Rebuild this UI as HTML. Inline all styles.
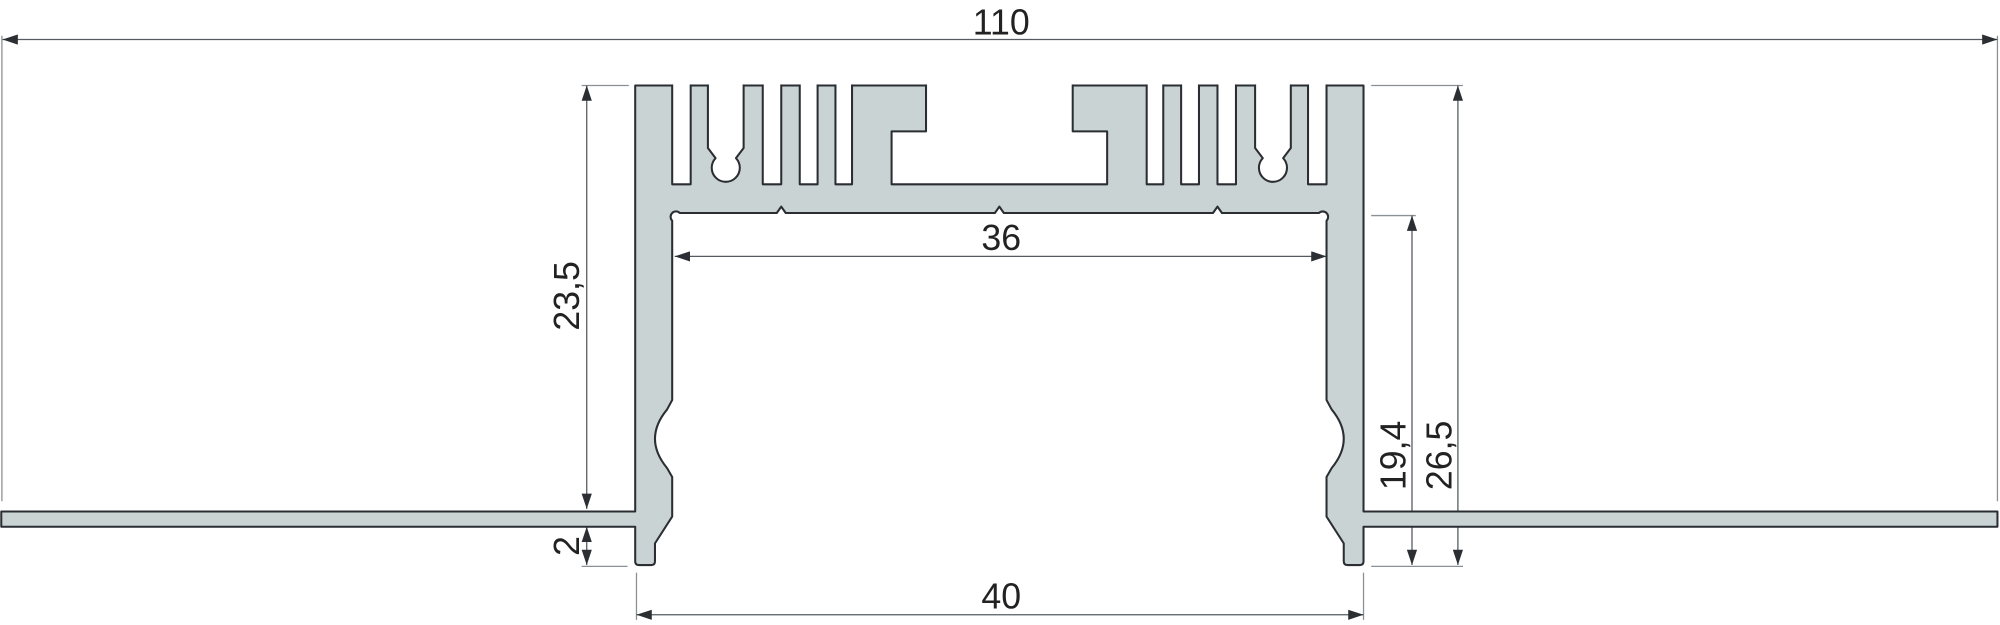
<!DOCTYPE html>
<html><head><meta charset="utf-8"><style>html,body{margin:0;padding:0;background:#fff}svg{display:block}</style></head>
<body>
<svg width="2000" height="625" viewBox="0 0 1568 490" xmlns="http://www.w3.org/2000/svg">
<defs>
<marker id="a" viewBox="0 0 12 8" refX="12" refY="4" markerWidth="12" markerHeight="8" markerUnits="userSpaceOnUse" orient="auto-start-reverse"><path d="M0,0 L12,4 L0,8 Z" fill="#2b2f33"/></marker>
</defs>
<rect width="1568" height="490" fill="#fff"/>
<g stroke="#8a9094" stroke-width="1" fill="none">
<line x1="1.5" y1="28" x2="1.5" y2="393"/>
<line x1="1566" y1="28" x2="1566" y2="393"/>
<line x1="456" y1="67" x2="493" y2="67"/>
<line x1="456" y1="444" x2="492" y2="444"/>
<line x1="499" y1="449" x2="499" y2="486"/>
<line x1="1069" y1="449" x2="1069" y2="486"/>
<line x1="1075" y1="67" x2="1147" y2="67"/>
<line x1="1075" y1="169" x2="1110" y2="169"/>
<line x1="1075" y1="444" x2="1147" y2="444"/>
</g>
<g stroke="#555b60" stroke-width="1" fill="none">
<line x1="2" y1="31" x2="1566" y2="31" marker-start="url(#a)" marker-end="url(#a)"/>
<line x1="460" y1="67" x2="460" y2="399" marker-start="url(#a)" marker-end="url(#a)"/>
<line x1="460" y1="413" x2="460" y2="443" marker-start="url(#a)" marker-end="url(#a)"/>
<line x1="529" y1="201" x2="1040" y2="201" marker-start="url(#a)" marker-end="url(#a)"/>
<line x1="499" y1="482" x2="1069" y2="482" marker-start="url(#a)" marker-end="url(#a)"/>
<line x1="1107" y1="169" x2="1107" y2="443" marker-start="url(#a)" marker-end="url(#a)"/>
<line x1="1143" y1="67" x2="1143" y2="443" marker-start="url(#a)" marker-end="url(#a)"/>
</g>
<path fill="#c9d3d4" stroke="#2a2e33" stroke-width="1.6" stroke-linejoin="round" d="M498,67 H1069 V401 H1566 V413 H1069 V440 Q1069,443 1066,443 H1056.5 Q1053.5,443 1053.5,440 V426 L1040,405 V374 L1044,367 Q1063,344 1044,321 L1040,313.6 V173 A4,4 0 1 0 1034,167 H958 L954.5,162 L951,167 H787 L783.5,162 L780,167 H616 L612.5,162 L609,167 H533 A4,4 0 1 0 527,173 V313.6 L523,321 Q504,344 523,367 L527,374 V405 L513.5,426 V440 Q513.5,443 510.5,443 H501 Q498,443 498,440 V413 H1 V401 H498 Z"/>
<g fill="#fff" stroke="#2a2e33" stroke-width="1.6" stroke-linejoin="round">
<path d="M527,60 V144.5 H541.5 V60"/>
<path d="M598,60 V144.5 H612.5 V60"/>
<path d="M627,60 V144.5 H641 V60"/>
<path d="M655,60 V144.5 H668 V60"/>
<path d="M899,60 V144.5 H912 V60"/>
<path d="M926,60 V144.5 H940 V60"/>
<path d="M954.5,60 V144.5 H969 V60"/>
<path d="M1025.5,60 V144.5 H1040 V60"/>
<path d="M555,60 V116 L561,124 A11,11 0 1 0 577,124 L583,116 V60"/>
<path d="M984,60 V116 L990,124 A11,11 0 1 0 1006,124 L1012,116 V60"/>
<path d="M726,60 V103 H699 V144.5 H868 V103 H841 V60"/>
</g>
<rect x="490" y="50" width="590" height="16.2" fill="#fff"/>
<g font-family="Liberation Sans, sans-serif" font-size="28" fill="#222" text-anchor="middle">
<text x="785" y="27">110</text>
<text x="785" y="196">36</text>
<text x="785" y="477">40</text>
<text transform="translate(454,232) rotate(-90)">23,5</text>
<text transform="translate(454,428) rotate(-90)">2</text>
<text transform="translate(1102,357) rotate(-90)">19,4</text>
<text transform="translate(1138,357) rotate(-90)">26,5</text>
</g>
</svg>
</body></html>
